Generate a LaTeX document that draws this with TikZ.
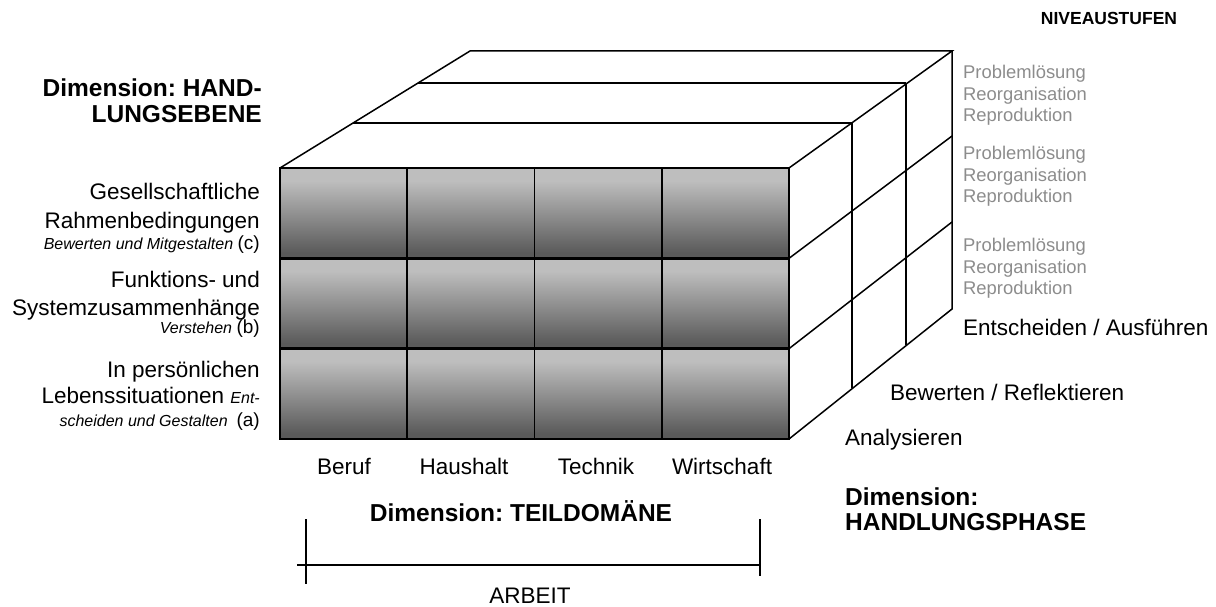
\documentclass[tikz,border=0pt]{standalone}
\usepackage{fontspec}
\setmainfont{Liberation Sans}
\definecolor{cellTop}{HTML}{BEBEBE}
\definecolor{cellBot}{HTML}{5A5A5A}
\definecolor{nivgray}{HTML}{8C8C8C}
\pgfdeclareverticalshading{cellshade}{100bp}{color(0bp)=(cellBot); color(28bp)=(cellBot); color(68bp)=(cellTop); color(100bp)=(cellTop)}
\frenchspacing
\begin{document}
\begin{tikzpicture}[x=1pt,y=-1pt,
  edge/.style={line width=1.5pt, line join=miter},
  grid/.style={line width=1.6pt},
  rowline/.style={line width=2.6pt},
  lab/.style={font=\fontsize{22.5}{26}\selectfont, inner sep=0pt},
  head/.style={font=\bfseries\fontsize{24.5}{28}\selectfont, inner sep=0pt},
  niv/.style={font=\fontsize{18.4}{21}\selectfont, text=nivgray, inner sep=0pt, anchor=base west},
  ]
\useasboundingbox (0,0) rectangle (1216,607);

% front cells
\foreach \i in {0,...,3}{
  \foreach \j in {0,...,2}{
    \fill[shading=cellshade] ({280+127.25*\i},{168+90.33*\j}) rectangle ++(127.25,90.33);
  }
}
\foreach \x in {407.25,534.5,661.75}{
  \draw[grid] (\x,168) -- (\x,439);
}
\draw[rowline] (280,258.33) -- (789,258.33);
\draw[rowline] (280,348.67) -- (789,348.67);
\draw[grid] (280,168) rectangle (789,439);

% corners
\coordinate (FTL) at (280,168);
\coordinate (FTR) at (789,168);
\coordinate (FBR) at (789,439);
\coordinate (BTL) at (470,51);
\coordinate (BTR) at (952,51);
\coordinate (BBR) at (952,309);

% top face
\draw[edge] (FTL) -- (BTL) -- (BTR) -- (FTR);
\draw[edge] (353,123) -- (852,123);
\draw[edge] (418,83) -- (906,83);

% right face
\draw[edge] (BTR) -- (BBR) -- (FBR);
\draw[edge] (852,123) -- (852,388);
\draw[edge] (906,83) -- (906,345);
\draw[edge] (789,258.33) -- (952,136);
\draw[edge] (789,348.67) -- (952,222);

% right labels
\node[font=\bfseries\fontsize{17.5}{20}\selectfont, inner sep=0pt, anchor=base] (niv) at (1109,25) {NIVEAUSTUFEN};
\node[niv] (p1) at (963,79) {Problemlösung};
\node[niv] (r1) at (963,101) {Reorganisation};
\node[niv] (q1) at (963,122) {Reproduktion};
\node[niv] (p2) at (963,160) {Problemlösung};
\node[niv] (r2) at (963,182) {Reorganisation};
\node[niv] (q2) at (963,203) {Reproduktion};
\node[niv] (p3) at (963,251) {Problemlösung};
\node[niv] (r3) at (963,273) {Reorganisation};
\node[niv] (q3) at (963,294) {Reproduktion};

\node[lab, anchor=base west] (ent) at (963,335) {Entscheiden / Ausführen};
\node[lab, anchor=base west] (bew) at (890,400) {Bewerten / Reflektieren};
\node[lab, anchor=base west] (ana) at (845,445) {Analysieren};

\node[head, anchor=base west] (hp1) at (845,505) {Dimension:};
\node[head, anchor=base west] (hp2) at (845,530) {HANDLUNGSPHASE};

% left labels
\node[head, anchor=base east] (he1) at (262,97) {Dimension: HAND-};
\node[head, anchor=base east] (he2) at (262,123) {LUNGSEBENE};

\node[lab, anchor=base east] (c1) at (260,200) {Gesellschaftliche};
\node[lab, anchor=base east] (c2) at (260,228) {Rahmenbedingungen};
\node[lab, anchor=base east] (c3) at (260,249) {\fontsize{16}{19}\selectfont\itshape Bewerten und Mitgestalten \upshape\fontsize{19}{22}\selectfont(c)};

\node[lab, anchor=base east] (b1) at (260,287) {Funktions- und};
\node[lab, anchor=base east] (b2) at (260,315) {Systemzusammenhänge};
\node[lab, anchor=base east] (b3) at (260,333) {\fontsize{16}{19}\selectfont\itshape Verstehen \upshape\fontsize{19}{22}\selectfont(b)};

\node[lab, anchor=base east] (a1) at (260,377) {In persönlichen};
\node[lab, anchor=base east] (a2) at (260,403) {Lebenssituationen {\fontsize{16}{19}\selectfont\itshape Ent-}};
\node[lab, anchor=base east] (a3) at (260,426) {\fontsize{16}{19}\selectfont\itshape scheiden und Gestalten \ \upshape\fontsize{19}{22}\selectfont(a)};

% bottom labels
\node[lab, anchor=base] (beruf) at (344,474) {Beruf};
\node[lab, anchor=base] (haus) at (464,474) {Haushalt};
\node[lab, anchor=base] (tech) at (596,474) {Technik};
\node[lab, anchor=base] (wirt) at (722,474) {Wirtschaft};
\node[head, anchor=base] (td) at (521,521) {Dimension: TEILDOMÄNE};

\coordinate (ba) at (297,565);
\coordinate (bb) at (760,565);
\draw[line width=1.3pt] (ba) -- (bb);
\draw[line width=1.3pt] (306,519) -- (306,584);
\draw[line width=1.3pt] (760,519) -- (760,576);
\node[lab, anchor=base] (arbeit) at (530,603) {ARBEIT};
\end{tikzpicture}
\end{document}
